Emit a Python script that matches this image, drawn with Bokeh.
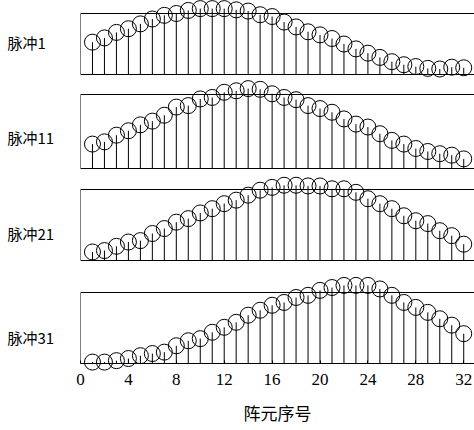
from bokeh.plotting import figure
from bokeh.models import Range1d, ColumnDataSource, FixedTicker
from bokeh.core.properties import value
from bokeh.embed import file_html
from bokeh.resources import INLINE

# ---------------- data ----------------
element = list(range(1, 33))
pulse_names = ["脉冲1", "脉冲11", "脉冲21", "脉冲31"]
pulse1 = [0.53, 0.60, 0.69, 0.75, 0.83, 0.91, 0.97, 1.00, 1.05, 1.08, 1.08, 1.08,
          1.06, 1.04, 0.98, 0.95, 0.86, 0.78, 0.70, 0.65, 0.59, 0.50, 0.42, 0.35,
          0.28, 0.21, 0.16, 0.13, 0.10, 0.09, 0.12, 0.11]
pulse11 = [0.33, 0.36, 0.45, 0.51, 0.59, 0.64, 0.72, 0.83, 0.85, 0.94, 0.96, 1.03,
           1.05, 1.08, 1.07, 1.01, 0.96, 0.93, 0.85, 0.81, 0.76, 0.67, 0.60, 0.56,
           0.47, 0.38, 0.33, 0.27, 0.23, 0.20, 0.18, 0.13]
pulse21 = [0.12, 0.14, 0.20, 0.26, 0.28, 0.38, 0.45, 0.54, 0.59, 0.67, 0.73, 0.80,
           0.85, 0.92, 0.99, 1.03, 1.06, 1.06, 1.05, 1.05, 1.01, 1.01, 0.96, 0.87,
           0.80, 0.73, 0.63, 0.56, 0.52, 0.42, 0.35, 0.23]
pulse31 = [0.02, 0.02, 0.04, 0.07, 0.11, 0.14, 0.16, 0.25, 0.32, 0.35, 0.44, 0.51,
           0.58, 0.68, 0.75, 0.82, 0.86, 0.93, 0.96, 1.03, 1.07, 1.10, 1.10, 1.10,
           1.05, 0.96, 0.86, 0.79, 0.72, 0.63, 0.54, 0.42]
x_ticks = [0, 4, 8, 12, 16, 20, 24, 28, 32]
x_title = "阵元序号"

series = [pulse1, pulse11, pulse21, pulse31]

# ---------------- layout (screen pixels inside the frame) ----------------
FRAME_H = 363
panel_top = [13, 94, 189, 292]
panel_base = [74, 168, 260, 363]
label_level = [0.52, 0.42, 0.38, 0.37]

p = figure(width=474, height=430, x_range=Range1d(0, 32.9), y_range=Range1d(0, 1),
           output_backend="svg", toolbar_location=None,
           min_border_left=80, min_border_right=0, min_border_top=0, min_border_bottom=67)
p.outline_line_color = None
p.xgrid.visible = False
p.ygrid.visible = False
p.yaxis.visible = False
p.background_fill_color = "white"
p.border_fill_color = "white"

for i, vals in enumerate(series):
    h = panel_base[i] - panel_top[i]
    start = (panel_base[i] - FRAME_H) / h
    end = panel_base[i] / h
    name = f"panel{i}"
    p.extra_y_ranges[name] = Range1d(start, end)
    # panel box (right side runs off the page)
    p.quad(left=[0], right=[34], bottom=[0], top=[1], fill_color=None,
           line_color="black", line_width=1, y_range_name=name)
    src = ColumnDataSource(dict(x=element, y=vals, b=[0] * len(vals)))
    p.segment(x0="x", y0="b", x1="x", y1="y", source=src, line_color="black",
              line_width=1, y_range_name=name)
    p.scatter(x="x", y="y", source=src, size=16, fill_color=None, line_color="black",
              line_width=1, y_range_name=name, level="overlay")
    p.text(x=[-6.1], y=[label_level[i]], text=[pulse_names[i]], y_range_name=name,
           text_font=value("Noto Sans CJK SC"), text_font_size="15px",
           text_color="black", text_baseline="middle", text_align="left",
           level="overlay")

p.xaxis.ticker = FixedTicker(ticks=x_ticks)
p.xaxis.axis_label = x_title
p.xaxis.axis_label_text_font = "Noto Sans CJK SC"
p.xaxis.axis_label_text_font_style = "normal"
p.xaxis.axis_label_text_font_size = "17px"
p.xaxis.axis_label_text_color = "black"
p.xaxis.axis_label_standoff = 12
p.xaxis.major_label_text_font = "Liberation Serif"
p.xaxis.major_label_text_font_size = "17px"
p.xaxis.major_label_text_color = "black"
p.xaxis.major_label_standoff = 10
p.xaxis.major_tick_out = 0
p.xaxis.major_tick_in = 3
p.xaxis.minor_tick_line_color = None
p.xaxis.axis_line_color = "black"
p.xaxis.major_tick_line_color = "black"

open("out.html", "w").write(file_html(p, INLINE))
